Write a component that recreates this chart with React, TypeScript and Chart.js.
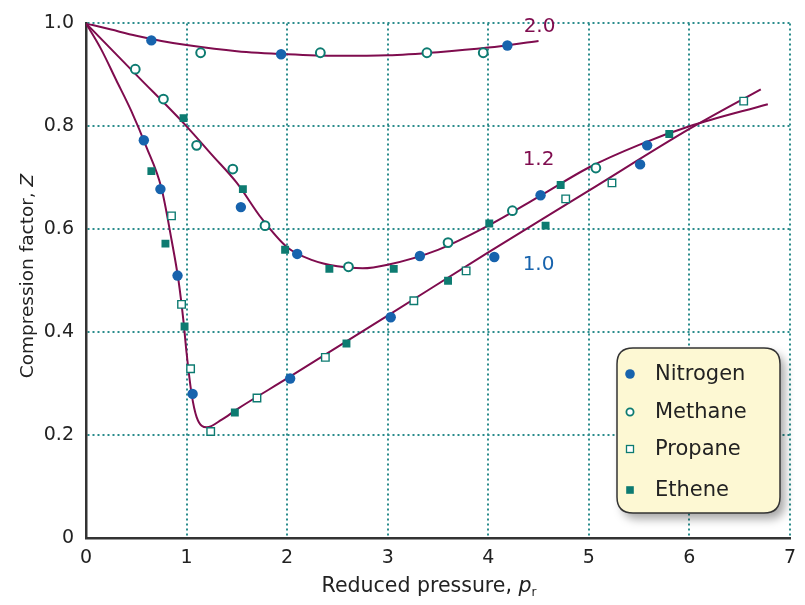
import React, { useEffect, useRef } from 'react';
import { Chart, registerables } from 'chart.js';

Chart.register(...registerables);

// ---- Data ----
const xTickValues = [0, 1, 2, 3, 4, 5, 6, 7];
const yTickValues = [0, 0.2, 0.4, 0.6, 0.8, 1.0];

const nitrogenX = [0.575, 0.65, 0.74, 0.91, 1.06, 1.54, 1.94, 2.03, 2.1, 3.03, 3.32, 4.06, 4.19, 4.52, 5.51, 5.58];
const nitrogenY = [0.773, 0.967, 0.678, 0.51, 0.28, 0.643, 0.94, 0.31, 0.552, 0.429, 0.548, 0.546, 0.957, 0.666, 0.726, 0.763];

const methaneX = [0.49, 0.77, 1.1, 1.14, 1.46, 1.78, 2.33, 2.61, 3.39, 3.6, 3.95, 4.24, 5.07];
const methaneY = [0.911, 0.853, 0.763, 0.943, 0.717, 0.607, 0.943, 0.527, 0.943, 0.574, 0.943, 0.636, 0.719];

const propaneX = [0.85, 0.95, 1.04, 1.24, 1.7, 2.38, 3.26, 3.78, 4.77, 5.23, 6.54];
const propaneY = [0.626, 0.454, 0.329, 0.207, 0.272, 0.351, 0.461, 0.519, 0.659, 0.69, 0.849];

const etheneX = [0.65, 0.79, 0.97, 0.98, 1.48, 1.56, 1.98, 2.42, 2.59, 3.06, 3.6, 4.01, 4.57, 4.72, 5.8];
const etheneY = [0.713, 0.572, 0.816, 0.411, 0.244, 0.678, 0.56, 0.523, 0.378, 0.523, 0.5, 0.611, 0.607, 0.686, 0.785];

// Reduced temperature isotherms (T_r = 2.0, 1.2, 1.0)
const curve20X = [0, 0.25, 0.5, 0.75, 1.0, 1.5, 2.0, 2.5, 3.0, 3.5, 4.0, 4.5];
const curve20Y = [1.0, 0.988, 0.976, 0.966, 0.958, 0.946, 0.94, 0.937, 0.938, 0.944, 0.953, 0.966];

const curve12X = [0, 0.5, 1.0, 1.25, 1.5, 1.75, 2.0, 2.25, 2.5, 2.75, 3.0, 3.5, 4.0, 4.5, 5.0, 5.5, 6.0, 6.78];
const curve12Y = [1.0, 0.9, 0.8, 0.745, 0.69, 0.62, 0.565, 0.54, 0.528, 0.524, 0.531, 0.56, 0.607, 0.663, 0.72, 0.764, 0.8, 0.843];

const curve10X = [0, 0.15, 0.3, 0.45, 0.6, 0.75, 0.85, 0.92, 0.97, 1.0, 1.05, 1.1, 1.2, 1.35, 1.5, 2.0, 3.0, 4.0, 5.0, 6.0, 6.71];
const curve10Y = [1.0, 0.95, 0.89, 0.83, 0.76, 0.68, 0.58, 0.5, 0.42, 0.36, 0.28, 0.235, 0.215, 0.23, 0.25, 0.31, 0.432, 0.555, 0.675, 0.795, 0.872];

const curveLabels = ['2.0', '1.2', '1.0'];
const curveLabelX = [4.51, 4.5, 4.5];
const curveLabelY = [0.994, 0.735, 0.531];

const seriesNames = ['Nitrogen', 'Methane', 'Propane', 'Ethene'];

// ---- Styles ----
const FONT = '"DejaVu Sans", sans-serif';
const CURVE_COLOR = '#7f0c4e';
const BLUE = '#1763ad';
const TEAL = '#0d7b71';
const GRID = '#2a8c8c';
const TEXT = '#222222';

const pts = (xs: number[], ys: number[]) => xs.map((x, i) => ({ x, y: ys[i] }));

const overlayPlugin = {
  id: 'overlay',
  afterDraw(chart: any) {
    const { ctx, scales } = chart;
    const xs = scales.x;
    const ys = scales.y;
    ctx.save();

    // curve labels
    const labelColors = [CURVE_COLOR, CURVE_COLOR, BLUE];
    ctx.font = `20px ${FONT}`;
    ctx.textAlign = 'center';
    ctx.textBaseline = 'middle';
    curveLabels.forEach((t, i) => {
      ctx.fillStyle = labelColors[i];
      ctx.fillText(t, xs.getPixelForValue(curveLabelX[i]), ys.getPixelForValue(curveLabelY[i]));
    });

    // x-axis title: "Reduced pressure, p_r"
    ctx.fillStyle = TEXT;
    ctx.textAlign = 'left';
    ctx.textBaseline = 'alphabetic';
    const xNormal = `20.5px ${FONT}`;
    const xItalic = `italic 20.5px ${FONT}`;
    const sub = `12px ${FONT}`;
    const t1 = 'Reduced pressure, ';
    ctx.font = xNormal;
    const w1 = ctx.measureText(t1).width;
    ctx.font = xItalic;
    const w2 = ctx.measureText('p').width;
    ctx.font = sub;
    const w3 = ctx.measureText('r').width;
    const total = w1 + w2 + w3;
    const x0 = 429 - total / 2;
    const by = 592;
    ctx.font = xNormal;
    ctx.fillText(t1, x0, by);
    ctx.font = xItalic;
    ctx.fillText('p', x0 + w1, by);
    ctx.font = sub;
    ctx.fillText('r', x0 + w1 + w2, by + 4);

    // y-axis title: "Compression factor, Z"
    const normal = `18.5px ${FONT}`;
    const italic = `italic 18.5px ${FONT}`;
    ctx.save();
    ctx.translate(33, 276);
    ctx.rotate(-Math.PI / 2);
    const s1 = 'Compression factor, ';
    ctx.font = normal;
    const v1 = ctx.measureText(s1).width;
    ctx.font = italic;
    const v2 = ctx.measureText('Z').width;
    const start = -(v1 + v2) / 2;
    ctx.font = normal;
    ctx.fillText(s1, start, 0);
    ctx.font = italic;
    ctx.fillText('Z', start + v1, 0);
    ctx.restore();

    // legend box
    const bx = 617, byTop = 348, bw = 163, bh = 165, r = 16;
    const rr = () => {
      ctx.beginPath();
      ctx.moveTo(bx + r, byTop);
      ctx.lineTo(bx + bw - r, byTop);
      ctx.quadraticCurveTo(bx + bw, byTop, bx + bw, byTop + r);
      ctx.lineTo(bx + bw, byTop + bh - r);
      ctx.quadraticCurveTo(bx + bw, byTop + bh, bx + bw - r, byTop + bh);
      ctx.lineTo(bx + r, byTop + bh);
      ctx.quadraticCurveTo(bx, byTop + bh, bx, byTop + bh - r);
      ctx.lineTo(bx, byTop + r);
      ctx.quadraticCurveTo(bx, byTop, bx + r, byTop);
      ctx.closePath();
    };
    ctx.save();
    ctx.shadowColor = 'rgba(0,0,0,0.35)';
    ctx.shadowBlur = 10;
    ctx.shadowOffsetX = 5;
    ctx.shadowOffsetY = 6;
    rr();
    ctx.fillStyle = '#fdf8d3';
    ctx.fill();
    ctx.restore();
    rr();
    ctx.lineWidth = 1.5;
    ctx.strokeStyle = '#333333';
    ctx.stroke();

    const rowY = [374, 412, 449, 490];
    const mx = 630;
    ctx.font = `21px ${FONT}`;
    ctx.textBaseline = 'middle';
    ctx.textAlign = 'left';
    seriesNames.forEach((name, i) => {
      const y = rowY[i];
      if (i === 0) {
        ctx.beginPath();
        ctx.arc(mx, y, 4.8, 0, Math.PI * 2);
        ctx.fillStyle = BLUE;
        ctx.fill();
      } else if (i === 1) {
        ctx.beginPath();
        ctx.arc(mx, y, 3.6, 0, Math.PI * 2);
        ctx.fillStyle = '#ffffff';
        ctx.fill();
        ctx.lineWidth = 1.8;
        ctx.strokeStyle = TEAL;
        ctx.stroke();
      } else if (i === 2) {
        ctx.fillStyle = '#ffffff';
        ctx.fillRect(mx - 3.5, y - 3.5, 7, 7);
        ctx.lineWidth = 1.3;
        ctx.strokeStyle = TEAL;
        ctx.strokeRect(mx - 3.5, y - 3.5, 7, 7);
      } else {
        ctx.fillStyle = TEAL;
        ctx.fillRect(mx - 3.8, y - 3.8, 7.6, 7.6);
      }
      ctx.fillStyle = TEXT;
      ctx.fillText(name, 655, y + 1);
    });

    ctx.restore();
  },
};

export default function App() {
  const ref = useRef<HTMLCanvasElement>(null);

  useEffect(() => {
    const curveDs = (xs: number[], ys: number[], label: string) => ({
      label,
      data: pts(xs, ys),
      showLine: true,
      borderColor: CURVE_COLOR,
      borderWidth: 2,
      pointRadius: 0,
      cubicInterpolationMode: 'monotone' as const,
      fill: false,
      order: 10,
    });

    const chart = new Chart(ref.current!, {
      type: 'scatter',
      data: {
        datasets: [
          curveDs(curve20X, curve20Y, 'Tr 2.0'),
          curveDs(curve12X, curve12Y, 'Tr 1.2'),
          curveDs(curve10X, curve10Y, 'Tr 1.0'),
          {
            label: seriesNames[0],
            data: pts(nitrogenX, nitrogenY),
            pointStyle: 'circle',
            pointRadius: 5.2,
            backgroundColor: BLUE,
            borderColor: BLUE,
            borderWidth: 0,
            order: 1,
          },
          {
            label: seriesNames[1],
            data: pts(methaneX, methaneY),
            pointStyle: 'circle',
            pointRadius: 4.4,
            backgroundColor: '#ffffff',
            borderColor: TEAL,
            borderWidth: 2,
            order: 1,
          },
          {
            label: seriesNames[2],
            data: pts(propaneX, propaneY),
            pointStyle: 'rect',
            pointRadius: 5.3,
            backgroundColor: '#ffffff',
            borderColor: TEAL,
            borderWidth: 1.4,
            order: 1,
          },
          {
            label: seriesNames[3],
            data: pts(etheneX, etheneY),
            pointStyle: 'rect',
            pointRadius: 5.6,
            backgroundColor: TEAL,
            borderColor: TEAL,
            borderWidth: 0,
            order: 1,
          },
        ],
      },
      options: {
        responsive: false,
        animation: false,
        layout: { padding: { top: 22, right: 11, left: 0, bottom: 0 } },
        plugins: {
          legend: { display: false },
          tooltip: { enabled: false },
          title: { display: false },
        },
        scales: {
          x: {
            type: 'linear',
            min: 0,
            max: 7,
            afterFit: (s: any) => { s.height = 67; },
            afterBuildTicks: (s: any) => { s.ticks = xTickValues.map((v) => ({ value: v })); },
            ticks: {
              color: TEXT,
              font: { family: FONT, size: 19 },
              padding: 9,
              callback: (v: any) => String(v),
            },
            grid: {
              drawTicks: false,
              lineWidth: 2,
              color: (c: any) => (c.tick && c.tick.value === 0 ? 'rgba(0,0,0,0)' : GRID),
            },
            border: { display: true, color: '#333333', width: 2.5, dash: [2, 3] },
          },
          y: {
            type: 'linear',
            min: 0,
            max: 1,
            afterFit: (s: any) => { s.width = 86; },
            afterBuildTicks: (s: any) => { s.ticks = yTickValues.map((v) => ({ value: v })); },
            ticks: {
              color: TEXT,
              font: { family: FONT, size: 19 },
              padding: 12,
              callback: (v: any) => (Number(v) === 0 ? '0' : Number(v).toFixed(1)),
            },
            grid: {
              drawTicks: false,
              lineWidth: 2,
              color: (c: any) => (c.tick && c.tick.value === 0 ? 'rgba(0,0,0,0)' : GRID),
            },
            border: { display: true, color: '#333333', width: 2.5, dash: [2, 3] },
          },
        },
      },
      plugins: [overlayPlugin],
    });
    return () => chart.destroy();
  }, []);

  return (
    <div style={{ position: 'fixed', left: 0, top: 0, width: 805, height: 605, background: '#ffffff' }}>
      <canvas ref={ref} width={805} height={605} style={{ width: 805, height: 605, display: 'block' }} />
    </div>
  );
}
